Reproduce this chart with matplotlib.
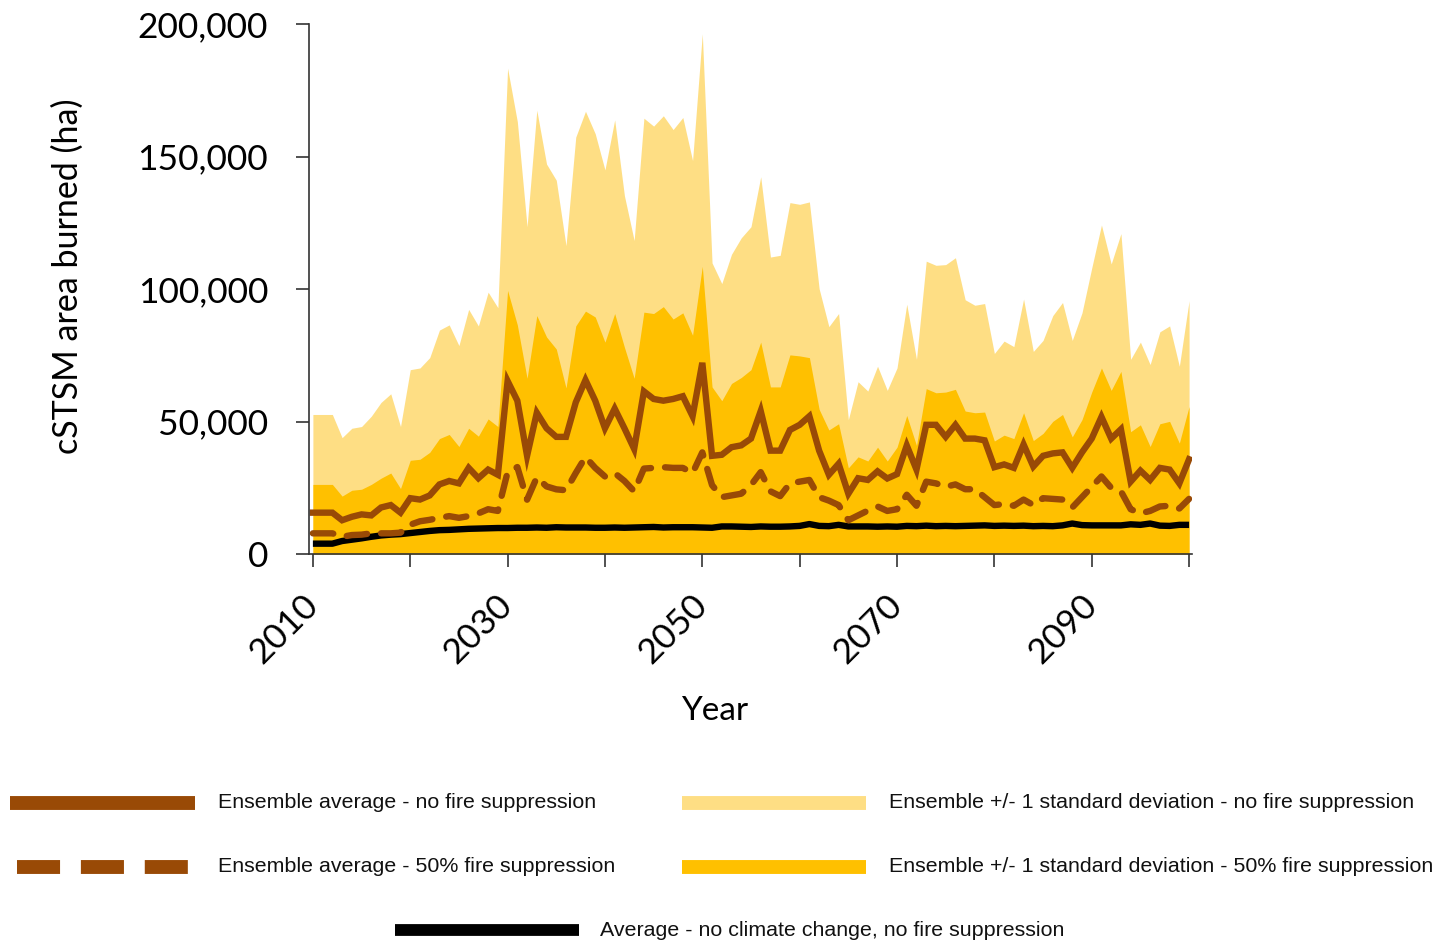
"""
Annual area burned in the cSTSM ensemble, 2010-2100.

Ensemble mean for the no-suppression and 50%-suppression scenarios, each
with its +1 standard deviation band, plus the no-climate-change baseline.
"""

import matplotlib

matplotlib.use("Agg")
import matplotlib.pyplot as plt
import numpy as np
from matplotlib.lines import Line2D
from matplotlib.ticker import FuncFormatter, MultipleLocator

years = np.arange(2010, 2101)

# Ensemble mean + 1 SD, no fire suppression (ha)
upper_no_suppr = [
    52650, 52650, 52650, 43900, 47450, 48100, 52000, 57200, 60450, 48100,
    69550, 70200, 74100, 84500, 86450, 78650, 92300, 86060, 98800, 92950,
    183300, 163150, 123500, 167440, 147160, 141050, 116350, 157300, 167050, 158600,
    144950, 163800, 135200, 118300, 164450, 161460, 165360, 160160, 164710, 148460,
    196300, 109850, 102050, 113100, 119300, 123500, 142350, 112060, 112700, 132600,
    131950, 132860, 100100, 85800, 90740, 50700, 65000, 61490, 70850, 61750,
    70200, 94250, 73450, 110500, 108940, 109200, 111800, 95940, 93860, 94510,
    75660, 80340, 78260, 96200, 76440, 80600, 89960, 94900, 80600, 91000,
    107900, 124150, 109460, 120900, 73450, 79950, 71500, 83850, 86060, 70850,
    95550,
]

# Ensemble mean + 1 SD, 50% fire suppression (ha)
upper_half_suppr = [
    26260, 26260, 26260, 21840, 24050, 24440, 26260, 28600, 30550, 24700,
    35360, 35750, 38350, 43550, 45110, 40560, 47450, 44460, 50960, 48100,
    99450, 86450, 66300, 89960, 81900, 77350, 62660, 86060, 91650, 89440,
    79950, 90740, 78000, 66300, 91260, 90740, 93340, 88660, 91000, 82550,
    108550, 63050, 57850, 64350, 66600, 69550, 79950, 63050, 63050, 75140,
    74750, 74100, 54600, 46800, 49140, 32500, 36660, 35100, 40300, 35100,
    40300, 52260, 40950, 62400, 60840, 61100, 62140, 53950, 53300, 53560,
    42640, 44850, 43550, 53300, 42800, 45500, 50050, 52650, 44200, 50700,
    61100, 70200, 61750, 68900, 46150, 48750, 40560, 49140, 50050, 41860,
    55640,
]

# Ensemble average, no fire suppression (ha)
mean_no_suppr = [
    15600, 15600, 15600, 12740, 14040, 14950, 14560, 17550, 18460, 15600,
    21060, 20540, 22100, 26260, 27560, 26650, 32500, 28600, 31850, 29900,
    65260, 57850, 37050, 53300, 47450, 44200, 44200, 57200, 65650, 57850,
    47450, 54860, 47450, 39650, 61360, 58500, 57850, 58500, 59540, 52000,
    72150, 37050, 37440, 40300, 41000, 43550, 53950, 39000, 39000, 46800,
    48750, 52000, 39000, 29900, 34060, 22750, 28600, 27950, 31200, 28500,
    30160, 40950, 31850, 48750, 48750, 44200, 48750, 43550, 43550, 42900,
    32760, 33800, 32500, 41340, 33000, 37050, 37960, 38350, 32500, 38350,
    43550, 51740, 43550, 47060, 27300, 31460, 27950, 32500, 31850, 26650,
    35750,
]

# Ensemble average, 50% fire suppression (ha)
mean_half_suppr = [
    7800, 7800, 7800, 6500, 7150, 7300, 7800, 7800, 7800, 8060,
    11050, 12350, 12900, 13650, 14300, 13650, 14300, 15340, 16900, 16250,
    30900, 32800, 20500, 28900, 25500, 24400, 24050, 30550, 36600, 32500,
    29250, 30550, 27560, 23660, 32240, 32500, 32760, 32500, 32500, 30550,
    38350, 26000, 21450, 22100, 22750, 26000, 30900, 23660, 21840, 26650,
    27300, 27950, 21450, 20150, 18460, 12740, 14560, 16380, 17940, 16250,
    16900, 22360, 18200, 27300, 26650, 25350, 26260, 24440, 24440, 21450,
    18460, 18850, 18200, 20540, 18460, 21060, 20800, 20540, 17550, 21450,
    25350, 29250, 24960, 23660, 16900, 15340, 16250, 17940, 18200, 17160,
    20800,
]

# Average, no climate change and no fire suppression (ha)
mean_baseline = [
    3900, 3900, 3900, 4900, 5400, 5900, 6500, 7000, 7300, 7500,
    7900, 8300, 8700, 9000, 9100, 9300, 9500, 9600, 9700, 9800,
    9800, 9900, 9900, 10000, 9900, 10100, 10000, 10000, 10000, 9900,
    9900, 10000, 9900, 10000, 10100, 10200, 10000, 10100, 10100, 10100,
    10000, 9900, 10400, 10400, 10300, 10200, 10400, 10300, 10300, 10400,
    10600, 11300, 10600, 10500, 11000, 10400, 10400, 10400, 10300, 10400,
    10300, 10600, 10500, 10700, 10500, 10600, 10500, 10600, 10700, 10800,
    10600, 10700, 10600, 10700, 10500, 10600, 10500, 10800, 11500, 10900,
    10800, 10800, 10800, 10800, 11200, 11000, 11500, 10700, 10600, 11000,
    11000,
]

labelled_years = [2010, 2030, 2050, 2070, 2090]

BROWN = "#994A06"
LIGHT_GOLD = "#FEDE84"
GOLD = "#FFC000"
AXIS_FONT = "Lato"
LEGEND_FONT = "Liberation Sans"

W, H = 1449, 943
fig = plt.figure(figsize=(W / 100, H / 100), dpi=100)
ax = fig.add_axes([309 / W, 1 - 554 / H, (1192 - 309) / W, (554 - 24) / H])

ax.fill_between(years, 0, upper_no_suppr, color=LIGHT_GOLD, lw=0)
ax.fill_between(years, 0, upper_half_suppr, color=GOLD, lw=0)
ax.plot(years, mean_baseline, color="black", lw=4.6, solid_capstyle="butt")
ax.plot(years, mean_half_suppr, color=BROWN, lw=4.6, linestyle=(0, (3.2, 2.2)),
        dash_capstyle="round")
ax.plot(years, mean_no_suppr, color=BROWN, lw=4.6, solid_joinstyle="miter")

ax.set_xlim(2009.6, 2100.3)
ax.set_ylim(0, 200000)

for side in ("top", "right"):
    ax.spines[side].set_visible(False)
for side in ("left", "bottom"):
    ax.spines[side].set_color("#333333")
    ax.spines[side].set_linewidth(1.2)

ax.yaxis.set_major_locator(MultipleLocator(50000))
ax.yaxis.set_major_formatter(FuncFormatter(lambda v, _: f"{int(v):,}"))
ax.tick_params(axis="y", direction="out", length=9.5, width=1.2, color="#333333",
               pad=20, labelsize=25.5)
for lab in ax.get_yticklabels():
    lab.set_fontfamily(AXIS_FONT)

ax.set_xticks(np.arange(2010, 2101, 10))
ax.set_xticklabels([str(y) if y in labelled_years else "" for y in range(2010, 2101, 10)])
ax.tick_params(axis="x", direction="out", length=9.5, width=1.2, color="#333333",
               pad=24, labelsize=25.5)
for lab in ax.get_xticklabels():
    lab.set_fontfamily(AXIS_FONT)
    lab.set_rotation(45)
    lab.set_ha("right")
    lab.set_va("center")
    lab.set_rotation_mode("anchor")

fig.text(68 / W, 1 - 276 / H, "cSTSM area burned (ha)", rotation=90, ha="center",
         va="center", fontsize=24.5, family=AXIS_FONT)
fig.text(715 / W, 1 - 711 / H, "Year", ha="center", va="center", fontsize=24,
         family=AXIS_FONT)


# legend drawn as figure-level swatches and labels
def swatch(x0, x1, y, color, lw, ls="-"):
    fig.add_artist(Line2D([x0 / W, x1 / W], [1 - y / H, 1 - y / H], color=color, lw=lw,
                          linestyle=ls, solid_capstyle="butt", dash_capstyle="butt",
                          transform=fig.transFigure))


def legend_text(x, y, s):
    fig.text(x / W, 1 - y / H, s, ha="left", va="center", fontsize=15.4,
             family=LEGEND_FONT, color="#111111")


swatch(10, 195, 803, BROWN, 10)
legend_text(218, 803, "Ensemble average - no fire suppression")
swatch(17, 188, 867, BROWN, 10, ls=(0, (3.1, 1.5)))
legend_text(218, 867, "Ensemble average - 50% fire suppression")
swatch(682, 866, 803, LIGHT_GOLD, 10)
legend_text(889, 803, "Ensemble +/- 1 standard deviation - no fire suppression")
swatch(682, 866, 867, GOLD, 10)
legend_text(889, 867, "Ensemble +/- 1 standard deviation - 50% fire suppression")
swatch(395, 579, 930, "black", 8.5)
legend_text(600, 930, "Average - no climate change, no fire suppression")

fig.savefig("out.png", dpi=100)
